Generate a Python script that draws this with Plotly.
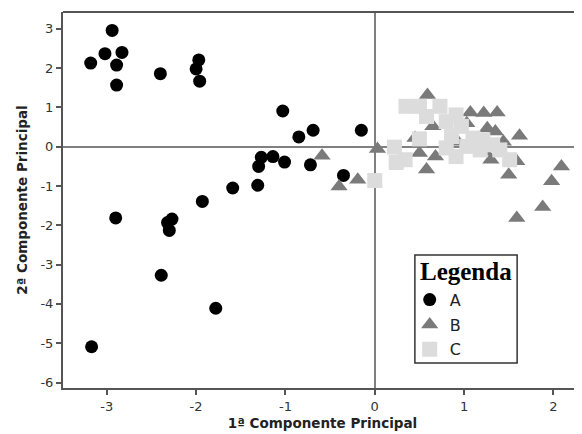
import plotly.graph_objects as go

# Group A (circles)
a_x = [-3.18, -3.02, -2.94, -2.83, -2.89, -2.89, -2.40, -1.97, -2.00, -1.96,
       -1.03, -0.85, -0.69, -0.15, -1.30, -1.27, -1.14, -1.01, -0.72, -0.35,
       -1.59, -1.31, -1.93, -2.90, -2.32, -2.27, -2.30, -2.39, -1.78, -3.17]
a_y = [2.13, 2.37, 2.96, 2.40, 2.08, 1.57, 1.86, 2.21, 1.98, 1.67,
       0.91, 0.25, 0.42, 0.42, -0.50, -0.27, -0.25, -0.39, -0.46, -0.73,
       -1.05, -0.98, -1.39, -1.81, -1.93, -1.84, -2.13, -3.27, -4.11, -5.09]

# Group B (triangles)
b_x = [0.59, 1.07, 1.22, 1.37, 1.62, 1.26, 1.35, 0.45, 0.50, 0.68,
       0.58, 1.30, 1.59, 1.50, 2.09, 1.98, 1.88, 1.59, 0.03, -0.59,
       -0.19, -0.40, 0.65, 1.03, 0.93, 1.23, 1.44]
b_y = [1.32, 0.87, 0.86, 0.87, 0.28, 0.47, 0.39, 0.22, -0.16, -0.25,
       -0.58, -0.33, -0.37, -0.71, -0.50, -0.88, -1.53, -1.81, -0.06, -0.23,
       -0.84, -1.01, 0.52, 0.60, 0.13, -0.12, 0.13]

# Group C (squares)
c_x = [0.35, 0.50, 0.73, 0.58, 0.91, 0.80, 0.97, 1.10, 1.21, 1.32,
       0.50, 0.80, 0.91, 1.03, 1.18, 1.40, 1.51, 0.22, 0.24, 0.34,
       0.00, 0.86]
c_y = [1.03, 1.03, 1.03, 0.77, 0.81, 0.64, 0.52, 0.22, 0.18, 0.05,
       0.20, -0.03, -0.25, 0.01, -0.08, -0.08, -0.33, -0.01, -0.40, -0.33,
       -0.86, 0.26]

x_ticks = [-3, -2, -1, 0, 1, 2]
y_ticks = [-6, -5, -4, -3, -2, -1, 0, 1, 2, 3]

fig = go.Figure()
fig.add_trace(go.Scatter(x=a_x, y=a_y, mode="markers", name="A", legendgroup="a",
                         marker=dict(symbol="circle", size=13, color="#000000",
                                     line=dict(width=0))))
fig.add_trace(go.Scatter(x=b_x, y=b_y, mode="markers", name="B", legendgroup="b",
                         marker=dict(symbol="triangle-up", size=15, color="#7a7a7a",
                                     line=dict(width=0))))
fig.add_trace(go.Scatter(x=c_x, y=c_y, mode="markers", name="C", legendgroup="c",
                         marker=dict(symbol="square", size=15, color="#dcdcdc",
                                     line=dict(width=0))))

tick_font = dict(family="DejaVu Sans, Verdana, sans-serif", size=13, color="#333333")
title_font = dict(family="DejaVu Sans, Verdana, sans-serif", size=13.5, color="#222222")

fig.update_layout(
    width=582, height=434,
    margin=dict(l=55, r=8, t=4, b=54, autoexpand=False),
    paper_bgcolor="white", plot_bgcolor="white",
    showlegend=True,
    legend=dict(
        x=0.668, y=0.280, xanchor="left", yanchor="top",
        bgcolor="rgba(0,0,0,0)", borderwidth=0,
        font=dict(family="DejaVu Sans, Verdana, sans-serif", size=16, color="#222"),
        tracegroupgap=1,
    ),
    xaxis=dict(
        range=[-3.49, 2.32], tickvals=x_ticks, ticktext=[str(v) for v in x_ticks],
        showgrid=False, zeroline=True, zerolinecolor="#808080", zerolinewidth=2,
        showline=True, linecolor="#555555", linewidth=2,
        ticks="outside", ticklen=5, tickwidth=1.5, tickcolor="#555555",
        tickfont=tick_font, automargin=False,
        title=dict(text="<b>1ª Componente Principal</b>", font=title_font, standoff=6),
    ),
    yaxis=dict(
        range=[-6.14, 3.43], tickvals=y_ticks, ticktext=[str(v) for v in y_ticks],
        showgrid=False, zeroline=True, zerolinecolor="#808080", zerolinewidth=2,
        showline=True, linecolor="#555555", linewidth=2,
        ticks="outside", ticklen=5, tickwidth=1.5, tickcolor="#555555",
        tickfont=tick_font, automargin=False,
        title=dict(text="<b>2ª Componente Principal</b>", font=title_font, standoff=10),
    ),
    shapes=[
        dict(type="line", xref="paper", yref="paper", x0=0, x1=1, y0=1, y1=1,
             line=dict(color="#555555", width=2)),
        dict(type="rect", xref="paper", yref="paper", x0=0.678, x1=0.875,
             y0=0.0665, y1=0.354, fillcolor="white",
             line=dict(color="#333333", width=1.5), layer="above"),
    ],
    annotations=[
        dict(text="<b>Legenda</b>", xref="paper", yref="paper", x=0.776, y=0.311,
             xanchor="center", yanchor="middle", showarrow=False,
             font=dict(family="Liberation Serif, DejaVu Serif, serif", size=25, color="#000")),
    ],
)

fig.write_html("out.html")
